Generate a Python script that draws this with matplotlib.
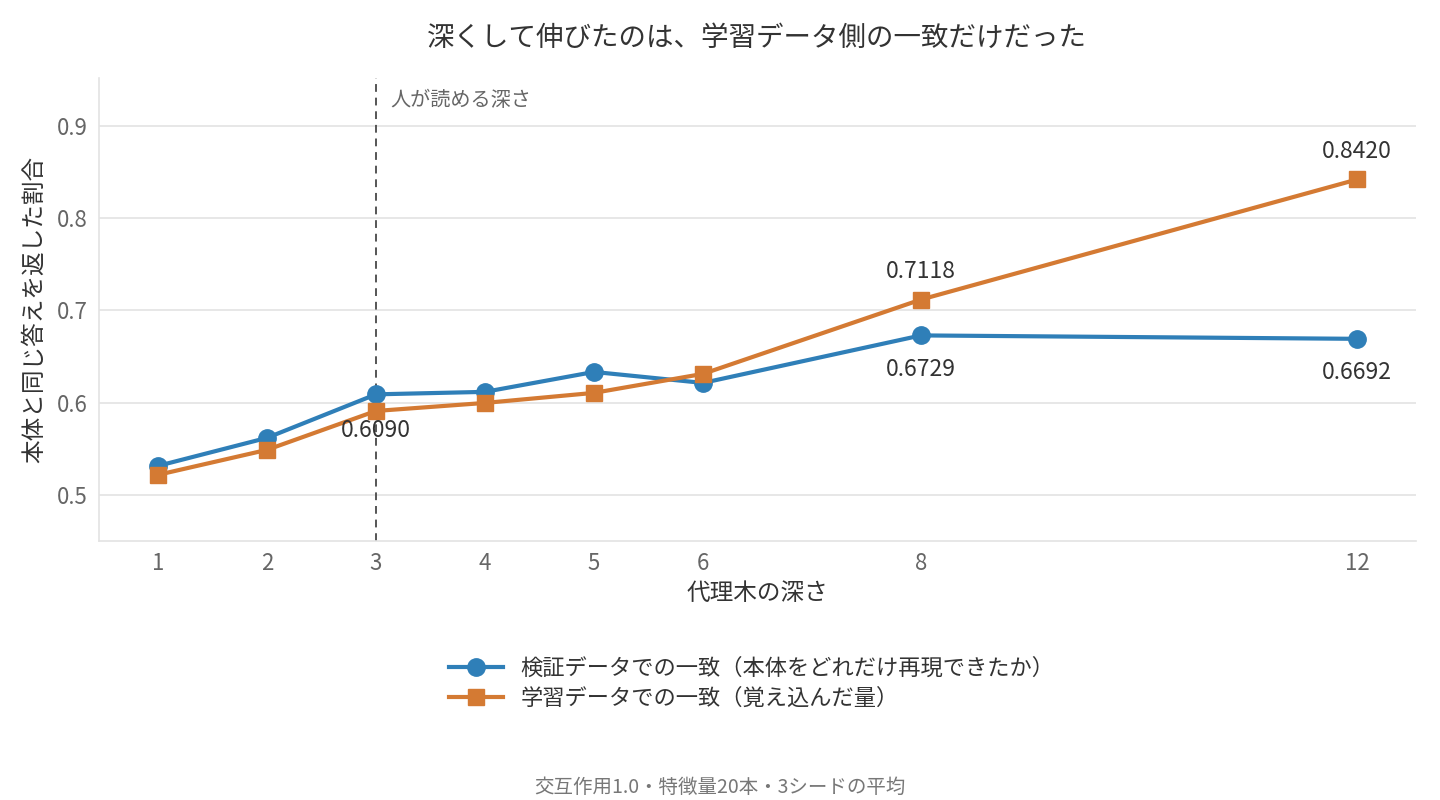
import matplotlib
matplotlib.use("Agg")
import matplotlib.pyplot as plt

plt.rcParams['font.family'] = ['Noto Sans CJK JP', 'DejaVu Sans']

depths = [1, 2, 3, 4, 5, 6, 8, 12]
val_agree = [0.5314, 0.5618, 0.6090, 0.6117, 0.6333, 0.6214, 0.6729, 0.6692]
train_agree = [0.5217, 0.5488, 0.5910, 0.5997, 0.6106, 0.6312, 0.7118, 0.8420]
yticks = [0.5, 0.6, 0.7, 0.8, 0.9]

label_val = "検証データでの一致（本体をどれだけ再現できたか）"
label_train = "学習データでの一致（覚え込んだ量）"
title = "深くして伸びたのは、学習データ側の一致だけだった"
xlabel = "代理木の深さ"
ylabel = "本体と同じ答えを返した割合"
vline_label = "人が読める深さ"
footer = "交互作用1.0・特徴量20本・3シードの平均"

blue = "#2f7fb8"
orange = "#d47a33"
grid_c = "#e3e3e3"
text_c = "#333333"
tick_c = "#666666"

fig = plt.figure(figsize=(14.4, 8.0), dpi=100)
ax = fig.add_axes([99/1440, 1-541/800, (1416-99)/1440, (541-78)/800])

ax.plot(depths, val_agree, color=blue, lw=3, marker='o', ms=12.5, label=label_val, zorder=3)
ax.plot(depths, train_agree, color=orange, lw=3, marker='s', ms=12, label=label_train, zorder=3)

ax.axvline(3, color="#555555", lw=1.4, ls=(0, (4, 3)), zorder=2)
ax.text(3.13, 0.928, vline_label, color="#666666", fontsize=14.5, ha='left', va='center')

# annotations
idx3 = depths.index(3)
ax.annotate(f"{val_agree[idx3]:.4f}", (depths[idx3], val_agree[idx3]), xytext=(0, -34),
            textcoords='offset points', ha='center', va='bottom', fontsize=16.5, color=text_c, zorder=4)
for d in [8, 12]:
    i = depths.index(d)
    ax.annotate(f"{val_agree[i]:.4f}", (d, val_agree[i]), xytext=(0, -16),
                textcoords='offset points', ha='center', va='top', fontsize=16.5, color=text_c)
    ax.annotate(f"{train_agree[i]:.4f}", (d, train_agree[i]), xytext=(0, 12),
                textcoords='offset points', ha='center', va='bottom', fontsize=16.5, color=text_c)

ax.set_xlim(0.46, 12.54)
ax.set_ylim(0.45, 0.952)
ax.set_xticks(depths)
ax.set_xticklabels([str(d) for d in depths])
ax.set_yticks(yticks)
ax.set_yticklabels([f"{v:.1f}" for v in yticks])
ax.tick_params(axis='both', length=0, labelsize=16, colors=tick_c, pad=8)
ax.grid(axis='y', color=grid_c, lw=1.2)
ax.set_axisbelow(True)
for s in ['top', 'right']:
    ax.spines[s].set_visible(False)
for s in ['left', 'bottom']:
    ax.spines[s].set_color(grid_c)
    ax.spines[s].set_linewidth(1.2)

ax.set_xlabel(xlabel, fontsize=17, color=text_c, labelpad=5)
ax.set_ylabel(ylabel, fontsize=17, color=text_c, labelpad=8)

fig.text(757/1440, 1-38/800, title, ha='center', va='center', fontsize=19.8, color=text_c)

leg = fig.legend(loc='center', bbox_to_anchor=(752/1440, 1-683/800), frameon=False,
                 fontsize=16, handlelength=2.4, labelspacing=0.3, labelcolor=text_c)

fig.text(720/1440, 1-787/800, footer, ha='center', va='center', fontsize=14, color="#777777")

fig.savefig("out.png", dpi=100, facecolor='white')
